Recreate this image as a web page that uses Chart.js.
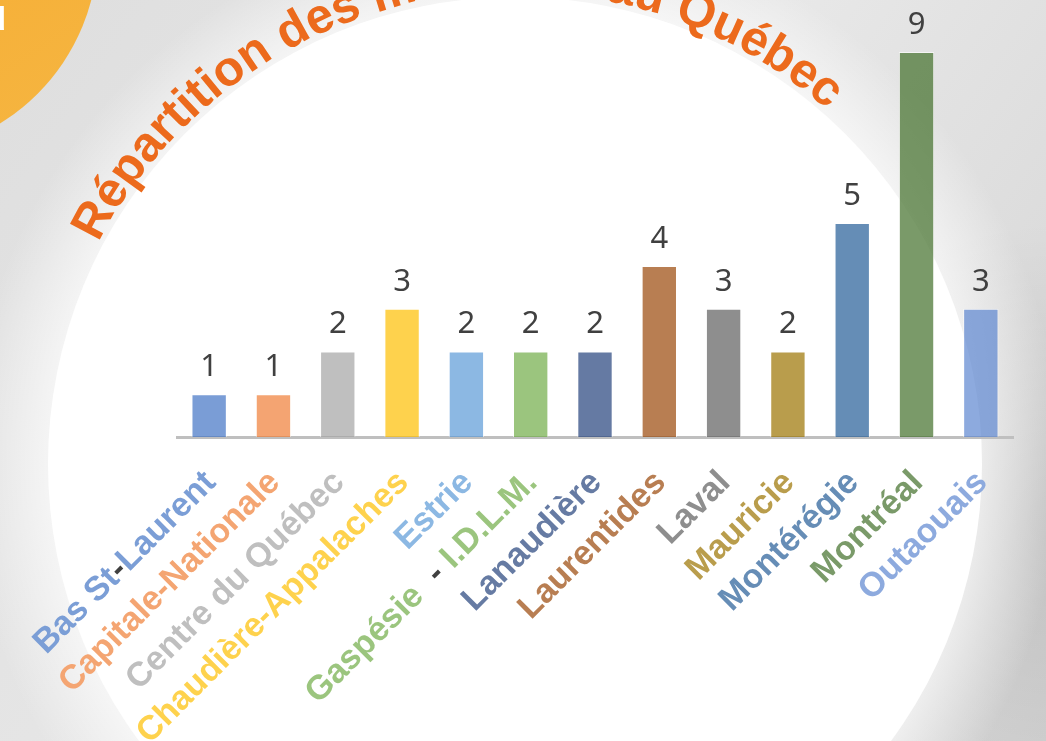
<!DOCTYPE html>
<html>
<head>
<meta charset="utf-8">
<script src="https://cdn.jsdelivr.net/npm/chart.js@4.4.1/dist/chart.umd.min.js"></script>
<style>
  html, body { margin: 0; padding: 0; background: #e4e4e4; }
  #wrap { width: 1046px; height: 741px; position: relative; }
</style>
</head>
<body>
<div id="wrap"><canvas id="regionChart"></canvas></div>
<script>
const regions = [
  'Bas St-Laurent', 'Capitale-Nationale', 'Centre du Québec', 'Chaudière-Appalaches',
  'Estrie', 'Gaspésie  - I.D.L.M.', 'Lanaudière', 'Laurentides', 'Laval',
  'Mauricie', 'Montérégie', 'Montréal', 'Outaouais'
];
const members = [1, 1, 2, 3, 2, 2, 2, 4, 3, 2, 5, 9, 3];
const regionColors = [
  '#7b9ed6', '#f4a572', '#bfbfbf', '#fed24d', '#8cb8e3', '#9bc57e', '#667ba3',
  '#b87e52', '#8e8e8e', '#b99d4c', '#668db6', '#7a9a69', '#8daade'
];
const titleText = 'Répartition des membres au Québec';

// bars are a bit see-through, so get a colour that looks like c over white
function seeThrough(hex, a) {
  const n = parseInt(hex.slice(1), 16);
  const ch = [(n >> 16) & 255, (n >> 8) & 255, n & 255].map(v => Math.max(0, Math.round((v - 255 * (1 - a)) / a)));
  return `rgba(${ch[0]},${ch[1]},${ch[2]},${a})`;
}

const CX = 515, CY = 464, R = 467;

const backdrop = {
  id: 'backdrop',
  beforeDraw(chart) {
    const ctx = chart.ctx;
    const w = chart.width, h = chart.height;
    ctx.save();
    let g = ctx.createLinearGradient(0, 0, w, h);
    g.addColorStop(0, '#dedede');
    g.addColorStop(0.5, '#e8e8e8');
    g.addColorStop(1, '#d2d2d2');
    ctx.fillStyle = g;
    ctx.fillRect(0, 0, w, h);
    // darker patch lower right
    g = ctx.createRadialGradient(1060, 520, 20, 1060, 520, 300);
    g.addColorStop(0, 'rgba(0,0,0,0.09)');
    g.addColorStop(1, 'rgba(0,0,0,0)');
    ctx.fillStyle = g;
    ctx.fillRect(0, 0, w, h);
    // soft glow around the circle
    g = ctx.createRadialGradient(CX, CY, R - 10, CX, CY, R + 80);
    g.addColorStop(0, 'rgba(255,255,255,0.7)');
    g.addColorStop(1, 'rgba(255,255,255,0)');
    ctx.fillStyle = g;
    ctx.fillRect(0, 0, w, h);
    // orange corner disc
    g = ctx.createLinearGradient(0, 0, 100, 150);
    g.addColorStop(0, '#f6b13a');
    g.addColorStop(1, '#f5b642');
    ctx.fillStyle = g;
    ctx.beginPath();
    ctx.arc(-108, -52, 206, 0, Math.PI * 2);
    ctx.fill();
    ctx.fillStyle = '#ffffff';
    ctx.font = 'bold 44px "Liberation Sans", Arial, sans-serif';
    ctx.textAlign = 'right';
    ctx.fillText('u', 7, 30);
    // white circle
    ctx.fillStyle = '#ffffff';
    ctx.beginPath();
    ctx.arc(CX, CY, R, 0, Math.PI * 2);
    ctx.fill();
    // title on the arc
    ctx.fillStyle = '#ec6a1c';
    ctx.font = 'bold 49px "Liberation Sans", Arial, sans-serif';
    ctx.textAlign = 'left';
    ctx.textBaseline = 'alphabetic';
    const rBase = 472;
    let ang = -152 * Math.PI / 180;
    for (const ch of titleText) {
      const cw = ctx.measureText(ch).width;
      ctx.save();
      ctx.translate(CX + rBase * Math.cos(ang), CY + rBase * Math.sin(ang));
      ctx.rotate(ang + Math.PI / 2);
      ctx.fillText(ch, 0, 0);
      ctx.restore();
      ang += cw / rBase;
    }
    ctx.restore();
  }
};

const labelsPlugin = {
  id: 'labelsPlugin',
  afterDatasetsDraw(chart) {
    const ctx = chart.ctx;
    const xs = chart.scales.x;
    const meta = chart.getDatasetMeta(0);
    ctx.save();
    // value labels
    ctx.fillStyle = '#404040';
    ctx.font = '31px "Noto Sans", sans-serif';
    ctx.textAlign = 'center';
    ctx.textBaseline = 'alphabetic';
    meta.data.forEach((bar, i) => {
      ctx.fillText(String(members[i]), bar.x, bar.y - 18);
    });
    // category labels, rotated
    ctx.font = 'bold 34px "Liberation Sans", Arial, sans-serif';
    regions.forEach((name, i) => {
      const x = xs.getPixelForValue(i);
      ctx.save();
      ctx.translate(x + 8, 484);
      ctx.rotate(-Math.PI / 4);
      // the dash in a couple of names is dark grey
      const parts = (i === 0 || i === 5) ? name.split(/(-)/) : [name];
      const total = ctx.measureText(name).width;
      let pos = -total;
      ctx.textAlign = 'left';
      parts.forEach(p => {
        ctx.fillStyle = p === '-' ? '#404040' : regionColors[i];
        ctx.fillText(p, pos, 0);
        pos += ctx.measureText(p).width;
      });
      ctx.restore();
    });
    ctx.restore();
  }
};

new Chart(document.getElementById('regionChart'), {
  type: 'bar',
  data: {
    labels: regions,
    datasets: [{
      data: members,
      backgroundColor: regionColors.map(c => seeThrough(c, 0.7)),
      borderColor: 'rgba(255,255,255,0.6)',
      borderWidth: 1,
      barPercentage: 0.55,
      categoryPercentage: 1
    }]
  },
  options: {
    responsive: true,
    maintainAspectRatio: false,
    animation: false,
    layout: { padding: { left: 177, right: 33, top: 52, bottom: 304 } },
    plugins: { legend: { display: false }, tooltip: { enabled: false } },
    scales: {
      x: {
        ticks: { display: false },
        grid: { display: false, drawTicks: false },
        border: { display: true, color: '#bfbfbf', width: 3 }
      },
      y: {
        display: false,
        min: 0,
        max: 9
      }
    }
  },
  plugins: [backdrop, labelsPlugin]
});
</script>
</body>
</html>
